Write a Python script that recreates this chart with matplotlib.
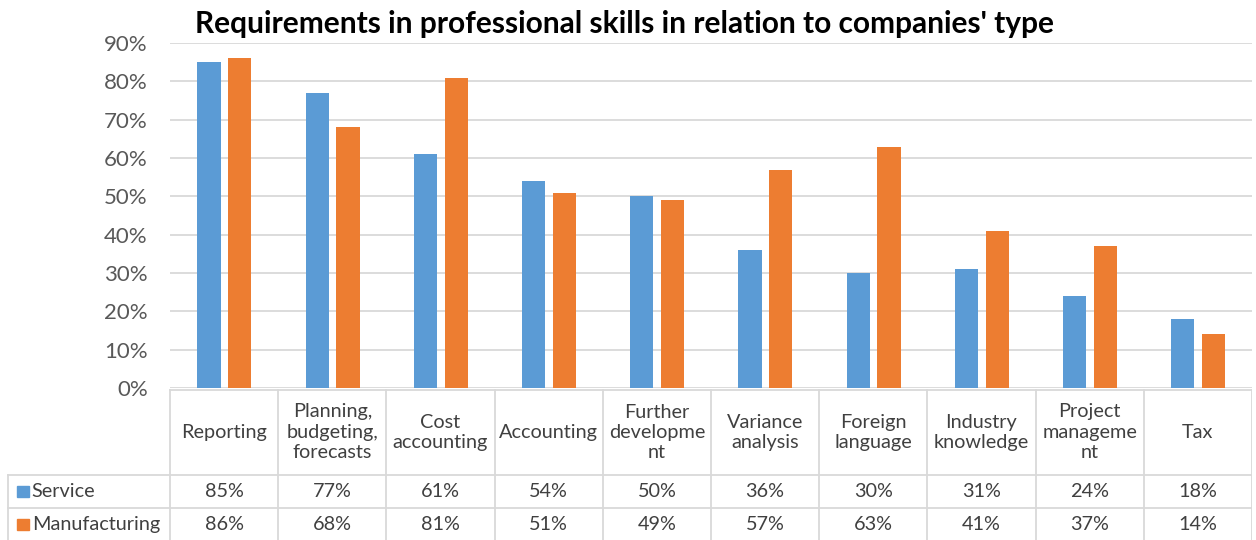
import matplotlib
matplotlib.use("Agg")
import matplotlib.pyplot as plt
import numpy as np

categories = ["Reporting", "Planning,\nbudgeting,\nforecasts", "Cost\naccounting",
              "Accounting", "Further\ndevelopme\nnt", "Variance\nanalysis",
              "Foreign\nlanguage", "Industry\nknowledge", "Project\nmanageme\nnt", "Tax"]
service = [85, 77, 61, 54, 50, 36, 30, 31, 24, 18]
manufacturing = [86, 68, 81, 51, 49, 57, 63, 41, 37, 14]
series_names = ["Service", "Manufacturing"]
colors = ["#5B9BD5", "#ED7D31"]
yticks = [0, 10, 20, 30, 40, 50, 60, 70, 80, 90]

plt.rcParams["font.family"] = ["Lato", "DejaVu Sans"]
W, H = 1256, 540
fig = plt.figure(figsize=(W / 100, H / 100), dpi=100)

def px_axes(x0, y0, x1, y1):
    # pixel box (top-left origin) -> figure axes
    return fig.add_axes([x0 / W, 1 - y1 / H, (x1 - x0) / W, (y1 - y0) / H])

left, right = 170, 1252
ax = px_axes(left, 43, right, 388)
n = len(categories)
x = np.arange(n)
bw = 0.215
ax.bar(x - 0.14, service, bw, color=colors[0], zorder=3)
ax.bar(x + 0.145, manufacturing, bw, color=colors[1], zorder=3)
ax.set_xlim(-0.5, n - 0.5)
ax.set_ylim(0, 90)
ax.set_yticks(yticks)
ax.set_yticklabels([f"{v}%" for v in yticks], fontsize=16, color="#595959")
ax.tick_params(axis="y", length=0, pad=16)
ax.set_xticks([])
ax.grid(axis="y", color="#D9D9D9", linewidth=1.3, zorder=0)
for s in ax.spines.values():
    s.set_visible(False)

fig.text(195 / W, 1 - 24 / H, "Requirements in professional skills in relation to companies' type",
         fontsize=21.5, fontweight="bold", va="center", ha="left")

# data table underneath
tab = px_axes(0, 388, right, 540)
tab.set_xlim(-0.5 - left / ((right - left) / n), n - 0.5)
tab.set_ylim(540, 388)
tab.axis("off")
line_kw = dict(color="#D9D9D9", linewidth=1.3)
row_y = [390, 475, 508, 541]
xl = -0.5 - (left - 8) / ((right - left) / n)
tab.plot([-0.5, n - 0.5], [row_y[0]] * 2, **line_kw)
for yy in row_y[1:3]:
    tab.plot([xl, n - 0.5], [yy, yy], **line_kw)
for i in range(n + 1):
    tab.plot([i - 0.5, i - 0.5], [row_y[0], 541], **line_kw)
tab.plot([xl, xl], [row_y[1], 541], **line_kw)

txt_kw = dict(ha="center", va="center", fontsize=14.3, color="#404040", linespacing=1.25)
for i, cat in enumerate(categories):
    tab.text(i, (row_y[0] + row_y[1]) / 2, cat, **txt_kw)
    tab.text(i, (row_y[1] + row_y[2]) / 2, f"{service[i]}%", **txt_kw)
    tab.text(i, (row_y[2] + row_y[3]) / 2, f"{manufacturing[i]}%", **txt_kw)

key_w = 0.105
for r, (name, c) in enumerate(zip(series_names, colors)):
    yc = (row_y[r + 1] + row_y[r + 2]) / 2
    tab.add_patch(plt.Rectangle((xl + 0.085, yc - 5.5), key_w, 11, color=c))
    tab.text(xl + 0.085 + key_w + 0.03, yc, name, ha="left", va="center",
             fontsize=14.3, color="#404040")

fig.savefig("out.png", dpi=100)
